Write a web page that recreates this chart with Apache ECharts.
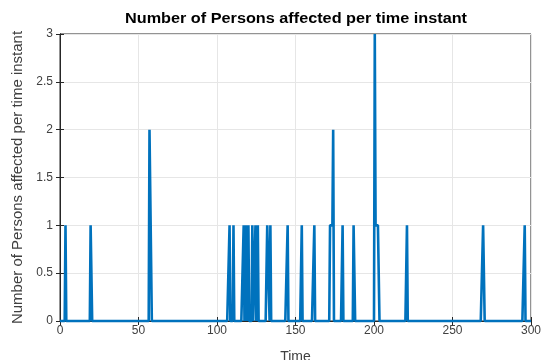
<!DOCTYPE html>
<html>
<head>
<meta charset="utf-8">
<script src="https://cdn.jsdelivr.net/npm/echarts@6/dist/echarts.min.js"></script>
<style>
  html, body { margin: 0; padding: 0; background: #fff; }
  #chart { width: 542px; height: 360px; }
</style>
</head>
<body>
<div id="chart"></div>
<script>
// Sampled every half time unit; listed are the instants at which persons were affected
const timeStep = 0.5;
const timeStart = 0;
const timeEnd = 300;
const spikeTimes  = [3.5, 19.5, 20, 57, 57.5, 58, 108, 110.5, 117, 118.5, 120,
                     122.5, 124.5, 126, 132, 132.5, 133, 134, 145, 154, 162,
                     172, 172.5, 173, 173.5, 174, 180, 187, 187.5,
                     200.5, 201, 201.5, 202, 202.5, 203, 221, 269.5, 270, 296];
const spikeCounts = [1, 1, 1, 2, 2, 2, 1, 1, 1, 1, 1,
                     1, 1, 1, 1, 1, 1, 1, 1, 1, 1,
                     1, 1, 1, 1, 2, 1, 1, 1,
                     3, 1, 1, 1, 1, 1, 1, 1, 1, 1];
const xTicks = [0, 50, 100, 150, 200, 250, 300];
const yTicks = [0, 0.5, 1, 1.5, 2, 2.5, 3];
const titleText = 'Number of Persons affected per time instant';

// Full sampled series: zero except where persons were affected
const counts = {};
spikeTimes.forEach((t, i) => { counts[t] = spikeCounts[i]; });
const seriesData = [];
const nSamples = Math.round((timeEnd - timeStart) / timeStep);
for (let k = 0; k <= nSamples; k++) {
  const t = timeStart + k * timeStep;
  seriesData.push([t, counts[t] || 0]);
}

const axisColor = '#262626';
const labelColor = '#404040';
const gridColor = '#e6e6e6';
const font = 'Liberation Sans, Arial, Helvetica, sans-serif';

const chart = echarts.init(document.getElementById('chart'), null, { renderer: 'canvas' });
chart.setOption({
  animation: false,
  backgroundColor: '#fff',
  graphic: [{
    type: 'text',
    x: 296, y: 19,
    scaleX: 1.16,
    style: {
      text: titleText,
      fontFamily: font, fontSize: 14, fontWeight: 'bold', fill: '#000',
      align: 'center', verticalAlign: 'middle'
    }
  }],
  grid: {
    left: 60, right: 11, top: 34, bottom: 39,
    containLabel: false, outerBoundsMode: 'none',
    show: true, borderColor: axisColor, borderWidth: 1, backgroundColor: '#fff'
  },
  xAxis: [{
    type: 'value', min: 0, max: 300, interval: 50,
    name: 'Time', nameLocation: 'middle', nameGap: 29,
    nameTextStyle: { fontFamily: font, fontSize: 14, color: labelColor },
    axisLine: { show: true, lineStyle: { color: axisColor } },
    axisTick: { show: true, inside: true, length: 4, lineStyle: { color: axisColor } },
    axisLabel: { fontFamily: font, fontSize: 12, color: labelColor, margin: 4,
                 formatter: v => xTicks.includes(v) ? String(v) : '' },
    splitLine: { show: true, lineStyle: { color: gridColor } }
  }, {
    type: 'value', min: 0, max: 300, interval: 50, position: 'top',
    axisLine: { show: true, lineStyle: { color: axisColor } },
    axisTick: { show: true, inside: true, length: 4, lineStyle: { color: axisColor } },
    axisLabel: { show: false }, splitLine: { show: false }
  }],
  yAxis: [{
    type: 'value', min: 0, max: 3, interval: 0.5,
    name: 'Number of Persons affected per time instant', nameLocation: 'middle', nameGap: 35,
    nameTextStyle: { fontFamily: font, fontSize: 15, color: labelColor },
    axisLine: { show: true, lineStyle: { color: axisColor } },
    axisTick: { show: true, inside: true, length: 4, lineStyle: { color: axisColor } },
    axisLabel: { fontFamily: font, fontSize: 12, color: labelColor, margin: 7,
                 formatter: v => yTicks.includes(v) ? String(v) : '' },
    splitLine: { show: true, lineStyle: { color: gridColor } }
  }, {
    type: 'value', min: 0, max: 3, interval: 0.5, position: 'right',
    axisLine: { show: true, lineStyle: { color: axisColor } },
    axisTick: { show: true, inside: true, length: 4, lineStyle: { color: axisColor } },
    axisLabel: { show: false }, splitLine: { show: false }
  }],
  series: [{
    type: 'line',
    data: seriesData,
    showSymbol: false,
    clip: false,
    lineStyle: { color: '#0072BD', width: 2.6 },
    z: 5
  }]
});
</script>
</body>
</html>
